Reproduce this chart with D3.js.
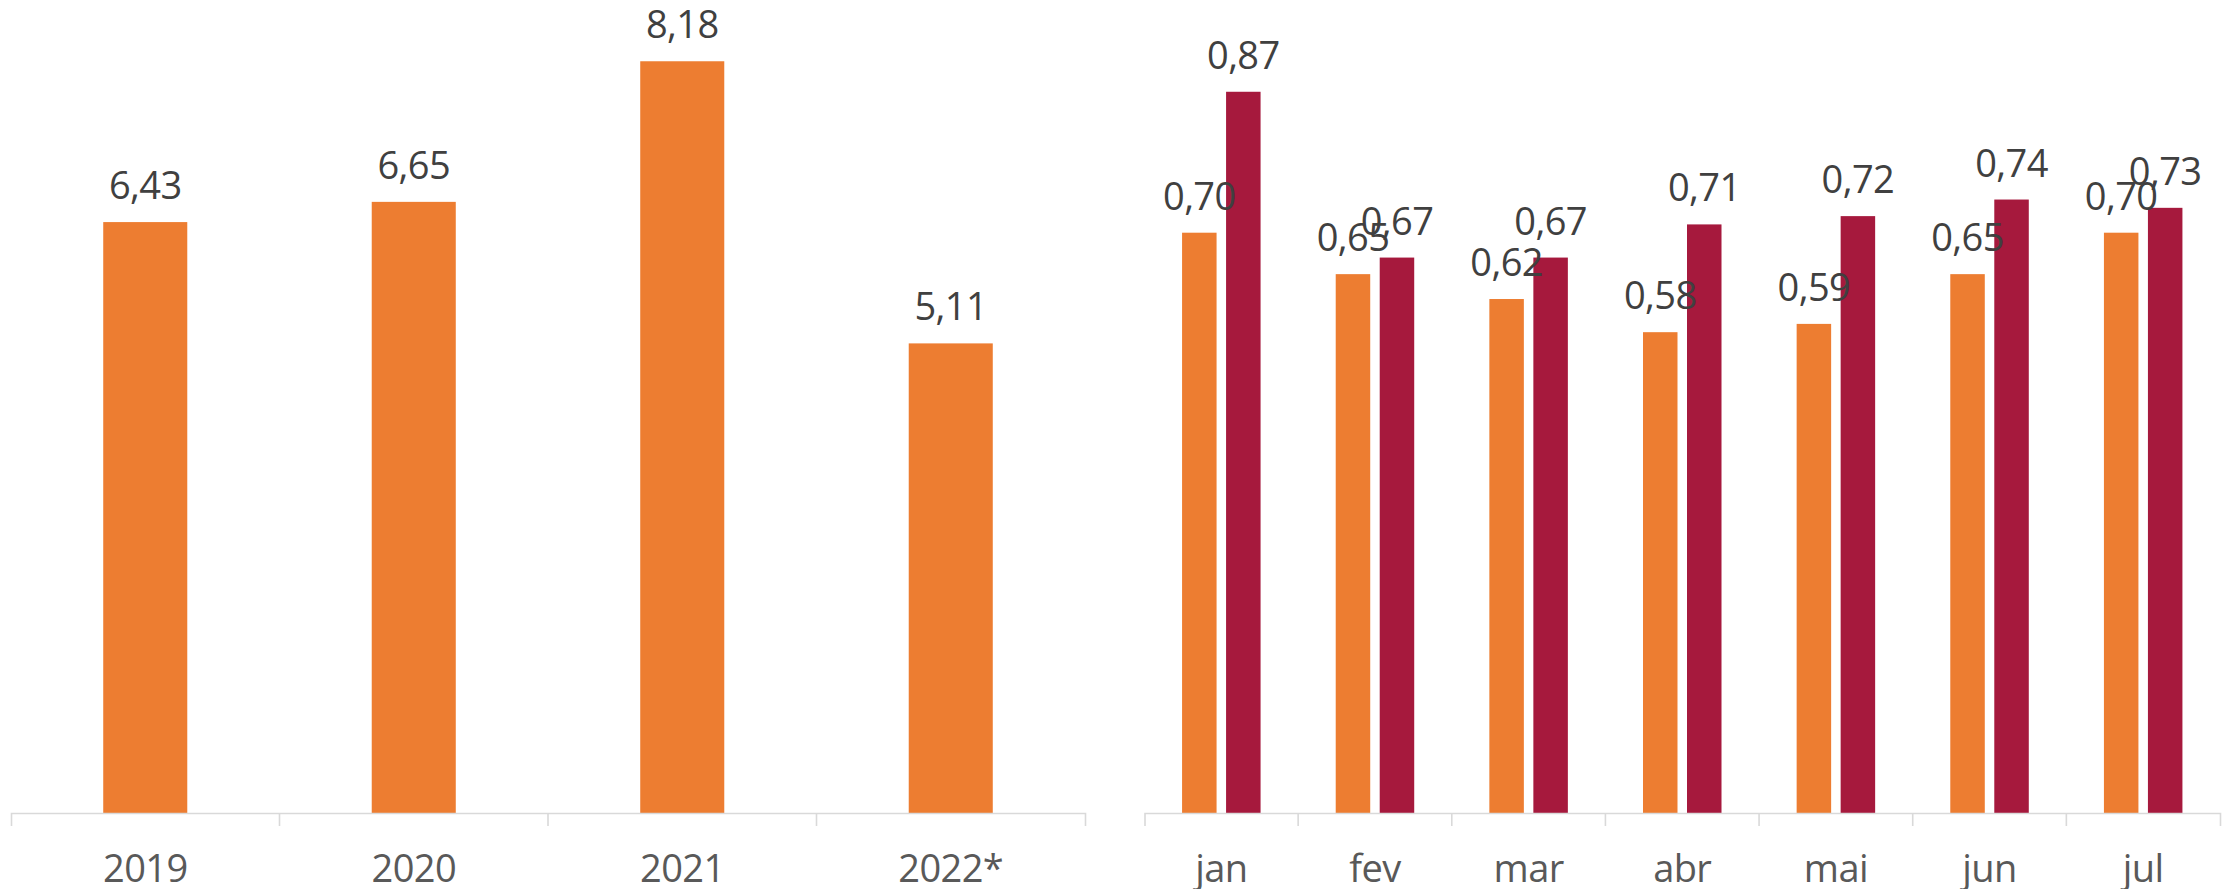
<!DOCTYPE html>
<html>
<head>
<meta charset="utf-8">
<script src="https://cdn.jsdelivr.net/npm/d3@7"></script>
<style>
  html, body { margin: 0; padding: 0; background: #ffffff; }
  svg { display: block; }
</style>
</head>
<body>
<svg id="chart" width="2226" height="889"></svg>
<script>
// ---- Data ----
const years = ["2019", "2020", "2021", "2022*"];
const yearValues = [6.43, 6.65, 8.18, 5.11];

const months = ["jan", "fev", "mar", "abr", "mai", "jun", "jul"];
const series = ["2021", "2022"];
const values2021 = [0.70, 0.65, 0.62, 0.58, 0.59, 0.65, 0.70];
const values2022 = [0.87, 0.67, 0.67, 0.71, 0.72, 0.74, 0.73];

const colors = { "2021": "#ED7D31", "2022": "#A6193D" };
const fmt = v => v.toFixed(2).replace(".", ",");

const svg = d3.select("#chart");
const axisY = 813;
const labelFont = "'Open Sans', 'Noto Sans', sans-serif";

function drawAxis(g, x, cats) {
  const axis = d3.axisBottom(x).tickSizeInner(0).tickSizeOuter(13).tickPadding(0);
  const ag = g.append("g").attr("transform", `translate(0,${axisY})`).call(axis);
  ag.select(".domain").attr("stroke", "#D9D9D9").attr("stroke-width", 1.6);
  ag.selectAll(".tick line").remove();
  ag.selectAll(".tick text")
    .attr("dy", null)
    .attr("y", 69)
    .attr("fill", "#595959")
    .style("font-family", labelFont)
    .style("font-size", "38px")
    .style("letter-spacing", "-0.6px");
  // category boundary ticks
  ag.selectAll(".bound").data(cats.slice(1)).enter().append("line")
    .attr("class", "bound")
    .attr("x1", d => x(d)).attr("x2", d => x(d))
    .attr("y1", 0).attr("y2", 13)
    .attr("stroke", "#D9D9D9").attr("stroke-width", 1.6);
}

// ---- Left chart ----
{
  const g = svg.append("g");
  const x = d3.scaleBand().domain(years).range([11, 1085]).padding(0);
  const y = d3.scaleLinear().domain([0, 9]).range([axisY, axisY - 91.9 * 9]);
  const bw = x.bandwidth() * 0.313;
  const data = years.map((c, i) => ({ c, v: yearValues[i] }));
  g.selectAll("rect").data(data).enter().append("rect")
    .attr("x", d => x(d.c) + x.bandwidth() / 2 - bw / 2)
    .attr("y", d => y(d.v))
    .attr("width", bw)
    .attr("height", d => y(0) - y(d.v))
    .attr("fill", colors["2021"]);
  g.selectAll("text.val").data(data).enter().append("text")
    .attr("class", "val")
    .attr("x", d => x(d.c) + x.bandwidth() / 2)
    .attr("y", d => y(d.v) - 23)
    .attr("text-anchor", "middle")
    .attr("fill", "#404040")
    .style("font-family", labelFont)
    .style("font-size", "38px")
    .style("letter-spacing", "-0.6px")
    .text(d => fmt(d.v));
  drawAxis(g, x, years);
}

// ---- Right chart ----
{
  const g = svg.append("g");
  const x = d3.scaleBand().domain(months).range([1144.5, 2220]).padding(0);
  const xs = d3.scaleBand().domain(series).range([0, 78.5]).paddingInner(0.216).paddingOuter(0);
  const y = d3.scaleLinear().domain([0, 1]).range([axisY, axisY - 829]);
  const off = x.bandwidth() / 2 - 78.5 / 2;
  const data = [];
  months.forEach((m, i) => {
    data.push({ m, s: "2021", v: values2021[i] });
    data.push({ m, s: "2022", v: values2022[i] });
  });
  g.selectAll("rect").data(data).enter().append("rect")
    .attr("x", d => x(d.m) + off + xs(d.s))
    .attr("y", d => y(d.v))
    .attr("width", xs.bandwidth())
    .attr("height", d => y(0) - y(d.v))
    .attr("fill", d => colors[d.s]);
  g.selectAll("text.val").data(data).enter().append("text")
    .attr("class", "val")
    .attr("x", d => x(d.m) + off + xs(d.s) + xs.bandwidth() / 2)
    .attr("y", d => y(d.v) - 23)
    .attr("text-anchor", "middle")
    .attr("fill", "#404040")
    .style("font-family", labelFont)
    .style("font-size", "38px")
    .style("letter-spacing", "-0.6px")
    .text(d => fmt(d.v));
  drawAxis(g, x, months);
}
</script>
</body>
</html>
